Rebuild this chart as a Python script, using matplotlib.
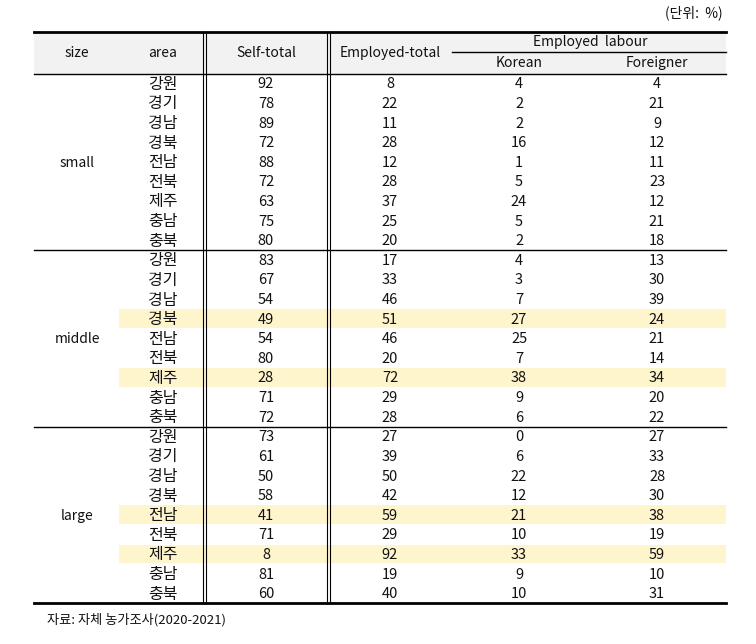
import numpy as np
from matplotlib import pyplot as plt

plt.rcParams['font.family'] = ['Noto Sans CJK KR', 'DejaVu Sans']

# data
sizes = ['small', 'middle', 'large']
areas = ['강원', '경기', '경남', '경북', '전남', '전북', '제주', '충남', '충북']
self_total = [92, 78, 89, 72, 88, 72, 63, 75, 80,
              83, 67, 54, 49, 54, 80, 28, 71, 72,
              73, 61, 50, 58, 41, 71, 8, 81, 60]
employed_total = [8, 22, 11, 28, 12, 28, 37, 25, 20,
                  17, 33, 46, 51, 46, 20, 72, 29, 28,
                  27, 39, 50, 42, 59, 29, 92, 19, 40]
korean = [4, 2, 2, 16, 1, 5, 24, 5, 2,
          4, 3, 7, 27, 25, 7, 38, 9, 6,
          0, 6, 22, 12, 21, 10, 33, 9, 10]
foreigner = [4, 21, 9, 12, 11, 23, 12, 21, 18,
             13, 30, 39, 24, 21, 14, 34, 20, 22,
             27, 33, 28, 30, 38, 19, 59, 10, 31]
highlighted = [('middle', '경북'), ('middle', '제주'), ('large', '전남'), ('large', '제주')]

unit_text = '(단위:  %)'
source_text = '자료: 자체 농가조사(2020-2021)'

# layout (pixel space)
W, H = 756, 644
left, right = 34, 726
top, head_bot, bottom = 32, 73.5, 603
row_h = (bottom - head_bot) / (len(sizes) * len(areas))
col_x = {'size': 77, 'area': 163, 'self': 266, 'emp': 390, 'kor': 519, 'for': 657}
vlines = [204.5, 328.5]
fs = 10

fig = plt.figure(figsize=(W / 100, H / 100), dpi=100)
ax = fig.add_axes([0, 0, 1, 1])
ax.set_xlim(0, W)
ax.set_ylim(H, 0)
ax.axis('off')

# header background
ax.fill_between([left, right], top, head_bot, color='#f2f2f2', lw=0)

# highlighted rows
for i, sz in enumerate(sizes):
    for j, ar in enumerate(areas):
        if (sz, ar) in highlighted:
            y0 = head_bot + (i * len(areas) + j) * row_h
            ax.fill_between([119, right], y0 + 0.5, y0 + row_h - 0.5, color='#fff5cc', lw=0)

# horizontal rules
ax.plot([left, right], [top, top], color='black', lw=2)
ax.plot([left, right], [bottom, bottom], color='black', lw=2)
ax.plot([left, right], [head_bot, head_bot], color='black', lw=1)
ax.plot([452, right], [51.5, 51.5], color='black', lw=1)
for i in range(1, len(sizes)):
    y = head_bot + i * len(areas) * row_h
    ax.plot([left, right], [y, y], color='black', lw=1)

# double vertical rules
for x in vlines:
    for dx in (-1.2, 1.2):
        ax.plot([x + dx, x + dx], [top, bottom], color='black', lw=0.8)

# header text
hy = (top + head_bot) / 2
kw = dict(ha='center', va='center', fontsize=fs, color='#111111')
ax.text(col_x['size'], hy, 'size', **kw)
ax.text(col_x['area'], hy, 'area', **kw)
ax.text(col_x['self'], hy, 'Self-total', **kw)
ax.text(col_x['emp'], hy, 'Employed-total', **kw)
ax.text(590, 42, 'Employed  labour', **kw)
ax.text(col_x['kor'], 62.5, 'Korean', **kw)
ax.text(col_x['for'], 62.5, 'Foreigner', **kw)

# body
nkw = dict(ha='center', va='center', fontsize=10.5, color='#111111')
for i, sz in enumerate(sizes):
    g0 = head_bot + i * len(areas) * row_h
    ax.text(col_x['size'], g0 + len(areas) * row_h / 2 + 1, sz, **kw)
    for j, ar in enumerate(areas):
        k = i * len(areas) + j
        y = g0 + (j + 0.5) * row_h + 1
        ax.text(col_x['area'], y, ar, ha='center', va='center',
                fontsize=11.5, color='#111111')
        ax.text(col_x['self'], y, str(self_total[k]), **nkw)
        ax.text(col_x['emp'], y, str(employed_total[k]), **nkw)
        ax.text(col_x['kor'], y, str(korean[k]), **nkw)
        ax.text(col_x['for'], y, str(foreigner[k]), **nkw)

ax.text(723, 13, unit_text, ha='right', va='center', fontsize=fs, color='#111111')
ax.text(47, 620, source_text, ha='left', va='center', fontsize=9.5, color='#111111')

fig.savefig('out.png', dpi=100)
